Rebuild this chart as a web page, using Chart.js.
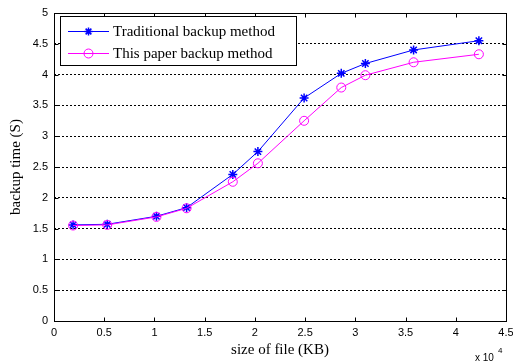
<!DOCTYPE html>
<html>
<head>
<meta charset="utf-8">
<script src="https://cdn.jsdelivr.net/npm/chart.js@4.4.0/dist/chart.umd.min.js"></script>
<style>
  html, body { margin: 0; padding: 0; background: #fff; }
  #spaceForGraphic { display: block; }
</style>
</head>
<body>
<canvas id="spaceForGraphic" width="513" height="363"></canvas>
<script>
// valores
const fileSizes = [1900, 5300, 10200, 13200, 17800, 20300, 24900, 28600, 31000, 35800, 42300]; // KB
const traditionalTimes = [1.56, 1.57, 1.70, 1.84, 2.38, 2.75, 3.62, 4.02, 4.18, 4.40, 4.55];
const paperTimes = [1.55, 1.56, 1.69, 1.83, 2.26, 2.56, 3.25, 3.79, 3.99, 4.20, 4.33];
const seriesNames = ["Traditional backup method", "This paper backup method"];
const seriesColors = ["#0000ff", "#ff00ff"];
const xTickValues = [0, 5000, 10000, 15000, 20000, 25000, 30000, 35000, 40000, 45000];

function toPoints(ys) {
  return fileSizes.map((x, i) => ({ x: x, y: ys[i] }));
}

function drawStar(ctx, x, y, r) {
  ctx.beginPath();
  ctx.moveTo(x - r, y); ctx.lineTo(x + r, y);
  ctx.moveTo(x, y - r); ctx.lineTo(x, y + r);
  const d = r * 0.72;
  ctx.moveTo(x - d, y - d); ctx.lineTo(x + d, y + d);
  ctx.moveTo(x - d, y + d); ctx.lineTo(x + d, y - d);
  ctx.stroke();
}

// marco, ticks hacia adentro, leyenda y "x 10^4"
const framePlugin = {
  id: "frame",
  afterDraw(chart) {
    const ctx = chart.ctx;
    const a = chart.chartArea;
    const xs = chart.scales.x, ys = chart.scales.y;
    const L = Math.round(a.left) + 0.5, R = Math.round(a.right) + 0.5;
    const T = Math.round(a.top) + 0.5, B = Math.round(a.bottom) + 0.5;
    ctx.save();
    ctx.strokeStyle = "#000";
    ctx.lineWidth = 1;
    ctx.setLineDash([]);
    ctx.strokeRect(L, T, R - L, B - T);
    ctx.beginPath();
    xs.ticks.forEach(t => {
      const px = Math.round(xs.getPixelForValue(t.value)) + 0.5;
      ctx.moveTo(px, B); ctx.lineTo(px, B - 4);
      ctx.moveTo(px, T); ctx.lineTo(px, T + 4);
    });
    ys.ticks.forEach(t => {
      const py = Math.round(ys.getPixelForValue(t.value)) + 0.5;
      ctx.moveTo(L, py); ctx.lineTo(L + 4, py);
      ctx.moveTo(R, py); ctx.lineTo(R - 4, py);
    });
    ctx.stroke();

    // leyenda
    const bx = 60.5, by = 16.5, bw = 236, bh = 49;
    ctx.fillStyle = "#fff";
    ctx.fillRect(bx, by, bw, bh);
    ctx.strokeRect(bx, by, bw, bh);
    const rows = [31, 53];
    ctx.font = "15px 'Liberation Serif', 'Times New Roman', serif";
    ctx.textBaseline = "middle";
    rows.forEach((ry, i) => {
      ctx.strokeStyle = seriesColors[i];
      ctx.lineWidth = 1;
      ctx.beginPath();
      ctx.moveTo(68, ry + 0.5); ctx.lineTo(109, ry + 0.5);
      ctx.stroke();
      if (i === 0) {
        ctx.lineWidth = 1.5;
        drawStar(ctx, 88.5, ry + 0.5, 4);
      } else {
        ctx.beginPath();
        ctx.arc(88.5, ry + 0.5, 4.5, 0, Math.PI * 2);
        ctx.stroke();
      }
      ctx.fillStyle = "#000";
      ctx.fillText(seriesNames[i], 113, ry + 1);
    });

    // factor de escala del eje X
    ctx.fillStyle = "#000";
    ctx.textBaseline = "alphabetic";
    ctx.font = "10px 'Liberation Sans', Arial, sans-serif";
    ctx.fillText("x 10", 475, 361);
    ctx.font = "8px 'Liberation Sans', Arial, sans-serif";
    ctx.fillText("4", 498, 353);
    ctx.restore();
  }
};

new Chart(document.getElementById("spaceForGraphic"), {
  type: "line",
  data: {
    datasets: [
      {
        label: seriesNames[0],
        data: toPoints(traditionalTimes),
        borderColor: seriesColors[0],
        borderWidth: 1,
        pointStyle: "star",
        pointRadius: 4.5,
        pointBorderColor: seriesColors[0],
        pointBorderWidth: 1.5,
        fill: false,
        tension: 0,
        order: 1,
      },
      {
        label: seriesNames[1],
        data: toPoints(paperTimes),
        borderColor: seriesColors[1],
        borderWidth: 1,
        pointStyle: "circle",
        pointRadius: 4.5,
        pointBackgroundColor: "rgba(0,0,0,0)",
        pointBorderColor: seriesColors[1],
        pointBorderWidth: 1,
        fill: false,
        tension: 0,
        order: 0,
      },
    ],
  },
  options: {
    responsive: false,
    animation: false,
    devicePixelRatio: 1,
    layout: { padding: { left: 0, right: 7, top: 13, bottom: 0 } },
    plugins: { legend: { display: false }, tooltip: { enabled: false } },
    scales: {
      x: {
        type: "linear",
        min: 0,
        max: 45000,
        afterBuildTicks: (s) => { s.ticks = xTickValues.map(v => ({ value: v })); },
        afterFit: (s) => { s.height = 42; s.paddingLeft = 0; s.paddingRight = 0; },
        ticks: {
          padding: 5,
          maxRotation: 0,
          color: "#000",
          font: { family: "'Liberation Sans', Arial, sans-serif", size: 11 },
          callback: (v) => String(v / 10000),
        },
        grid: { display: false, drawTicks: false },
        border: { display: false },
        title: {
          display: true,
          text: "size of file (KB)",
          color: "#000",
          font: { family: "'Liberation Serif', 'Times New Roman', serif", size: 15 },
          padding: { top: 4, bottom: 4 },
        },
      },
      y: {
        type: "linear",
        min: 0,
        max: 5,
        afterFit: (s) => { s.width = 54; },
        ticks: {
          stepSize: 0.5,
          padding: 6,
          color: "#000",
          font: { family: "'Liberation Sans', Arial, sans-serif", size: 11 },
          callback: (v) => String(v),
        },
        grid: { color: "#000", lineWidth: 1, drawTicks: false },
        border: { display: false, dash: [2, 2] },
        title: {
          display: true,
          text: "backup time (S)",
          color: "#000",
          font: { family: "'Liberation Serif', 'Times New Roman', serif", size: 15 },
          padding: { top: 7, bottom: 4 },
        },
      },
    },
  },
  plugins: [framePlugin],
});
</script>
</body>
</html>
